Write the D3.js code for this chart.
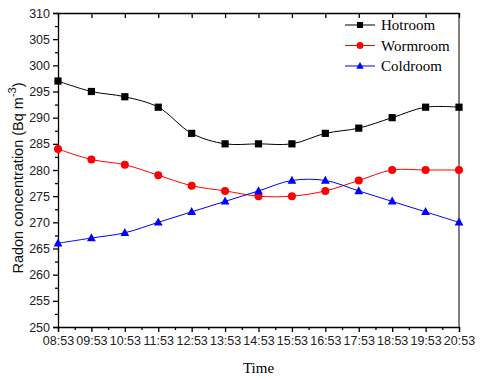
<!DOCTYPE html>
<html>
<head>
<meta charset="utf-8">
<script src="https://cdn.jsdelivr.net/npm/d3@7"></script>
<style>
  body { margin: 0; background: #fff; }
  svg text { font-family: "Liberation Sans", Arial, sans-serif; }
</style>
</head>
<body>
<div id="chart"></div>
<script>
// data
const times = ["08:53", "09:53", "10:53", "11:53", "12:53", "13:53", "14:53",
    "15:53", "16:53", "17:53", "18:53", "19:53", "20:53"];
const hotroom = [297, 295, 294, 292, 287, 285, 285, 285, 287, 288, 290, 292, 292];
const wormroom = [284, 282, 281, 279, 277, 276, 275, 275, 276, 278, 280, 280, 280];
const coldroom = [266, 267, 268, 270, 272, 274, 276, 278, 278, 276, 274, 272, 270];
const yTicks = [250, 255, 260, 265, 270, 275, 280, 285, 290, 295, 300, 305, 310];

const series = [
    { name: "Hotroom", values: hotroom, color: "#000000", marker: "square" },
    { name: "Wormroom", values: wormroom, color: "#ff0000", marker: "circle" },
    { name: "Coldroom", values: coldroom, color: "#0000ff", marker: "triangle" }
];

const W = 480, H = 380;
const margin = { left: 58, right: 21, top: 13, bottom: 53 };

const svg = d3.select("#chart").append("svg")
    .attr("width", W)
    .attr("height", H);

const x = d3.scaleLinear()
    .domain([0, times.length - 1])
    .range([margin.left, W - margin.right]);
const y = d3.scaleLinear()
    .domain([250, 310])
    .range([H - margin.bottom, margin.top]);

const axisColor = "#000";

// bottom axis, major + minor ticks outward
const xAxis = svg.append("g")
    .attr("transform", `translate(0,${H - margin.bottom})`)
    .call(d3.axisBottom(x)
        .tickValues(d3.range(times.length))
        .tickFormat(i => times[i])
        .tickSize(5)
        .tickPadding(4));
xAxis.selectAll("text")
    .attr("font-size", 12.5)
    .attr("fill", "#222");
svg.append("g")
    .attr("transform", `translate(0,${H - margin.bottom})`)
    .call(d3.axisBottom(x)
        .tickValues(d3.range(0.5, times.length - 1, 1))
        .tickFormat("")
        .tickSize(3))
    .select(".domain").remove();

// left axis
const yAxis = svg.append("g")
    .attr("transform", `translate(${margin.left},0)`)
    .call(d3.axisLeft(y)
        .tickValues(yTicks)
        .tickSize(5)
        .tickPadding(3));
yAxis.selectAll("text")
    .attr("font-size", 12.5)
    .attr("fill", "#222");
svg.append("g")
    .attr("transform", `translate(${margin.left},0)`)
    .call(d3.axisLeft(y)
        .tickValues(d3.range(252.5, 310, 5))
        .tickFormat("")
        .tickSize(3))
    .select(".domain").remove();

// top axis, ticks inward
svg.append("g")
    .attr("transform", `translate(0,${margin.top})`)
    .call(d3.axisBottom(x)
        .tickValues(d3.range(times.length))
        .tickFormat("")
        .tickSizeInner(5)
        .tickSizeOuter(0));

// right border
svg.append("line")
    .attr("x1", W - margin.right).attr("x2", W - margin.right)
    .attr("y1", margin.top).attr("y2", H - margin.bottom)
    .attr("stroke", axisColor);

svg.selectAll(".domain, .tick line").attr("stroke", axisColor).attr("stroke-width", 1.3);

// lines
const line = d3.line()
    .x((d, i) => x(i))
    .y(d => y(d))
    .curve(d3.curveCatmullRom.alpha(0.5));

function drawMarker(g, type, color, cx, cy) {
    if (type === "square") {
        g.append("rect")
            .attr("x", cx - 3.6).attr("y", cy - 3.6)
            .attr("width", 7.2).attr("height", 7.2)
            .attr("fill", color);
    } else if (type === "circle") {
        g.append("circle")
            .attr("cx", cx).attr("cy", cy).attr("r", 4)
            .attr("fill", color);
    } else {
        g.append("path")
            .attr("d", `M${cx},${cy - 4.8}L${cx + 4.4},${cy + 3.2}L${cx - 4.4},${cy + 3.2}Z`)
            .attr("fill", color);
    }
}

const plot = svg.append("g");
series.forEach(s => {
    plot.append("path")
        .datum(s.values)
        .attr("d", line)
        .attr("fill", "none")
        .attr("stroke", s.color)
        .attr("stroke-width", 1);
    const mg = plot.append("g");
    s.values.forEach((v, i) => drawMarker(mg, s.marker, s.color, x(i), y(v)));
});

// legend
const legend = svg.append("g");
series.forEach((s, i) => {
    const ly = 25 + i * 20.5;
    legend.append("line")
        .attr("x1", 345).attr("x2", 375)
        .attr("y1", ly).attr("y2", ly)
        .attr("stroke", s.color);
    const g = legend.append("g").attr("transform", `translate(360,${ly}) scale(0.85) translate(-360,${-ly})`);
    drawMarker(g, s.marker, s.color, 360, ly);
    legend.append("text")
        .attr("x", 381).attr("y", ly + 5)
        .attr("font-size", 15)
        .style("font-family", "'Liberation Serif', 'Times New Roman', serif")
        .attr("fill", "#000")
        .text(s.name);
});

// axis titles
svg.append("text")
    .attr("x", (margin.left + W - margin.right) / 2)
    .attr("y", 373)
    .attr("text-anchor", "middle")
    .attr("font-size", 15)
    .style("font-family", "'Liberation Serif', 'Times New Roman', serif")
    .text("Time");

const yTitle = svg.append("text")
    .attr("transform", `translate(23,${(margin.top + H - margin.bottom) / 2 + 8}) rotate(-90)`)
    .attr("text-anchor", "middle")
    .attr("font-size", 14.5)
    .attr("fill", "#111");
yTitle.append("tspan").text("Radon concentration (Bq m");
yTitle.append("tspan").attr("dy", -7).attr("font-size", 11).text("-3");
yTitle.append("tspan").attr("dy", 7).text(")");
</script>
</body>
</html>
